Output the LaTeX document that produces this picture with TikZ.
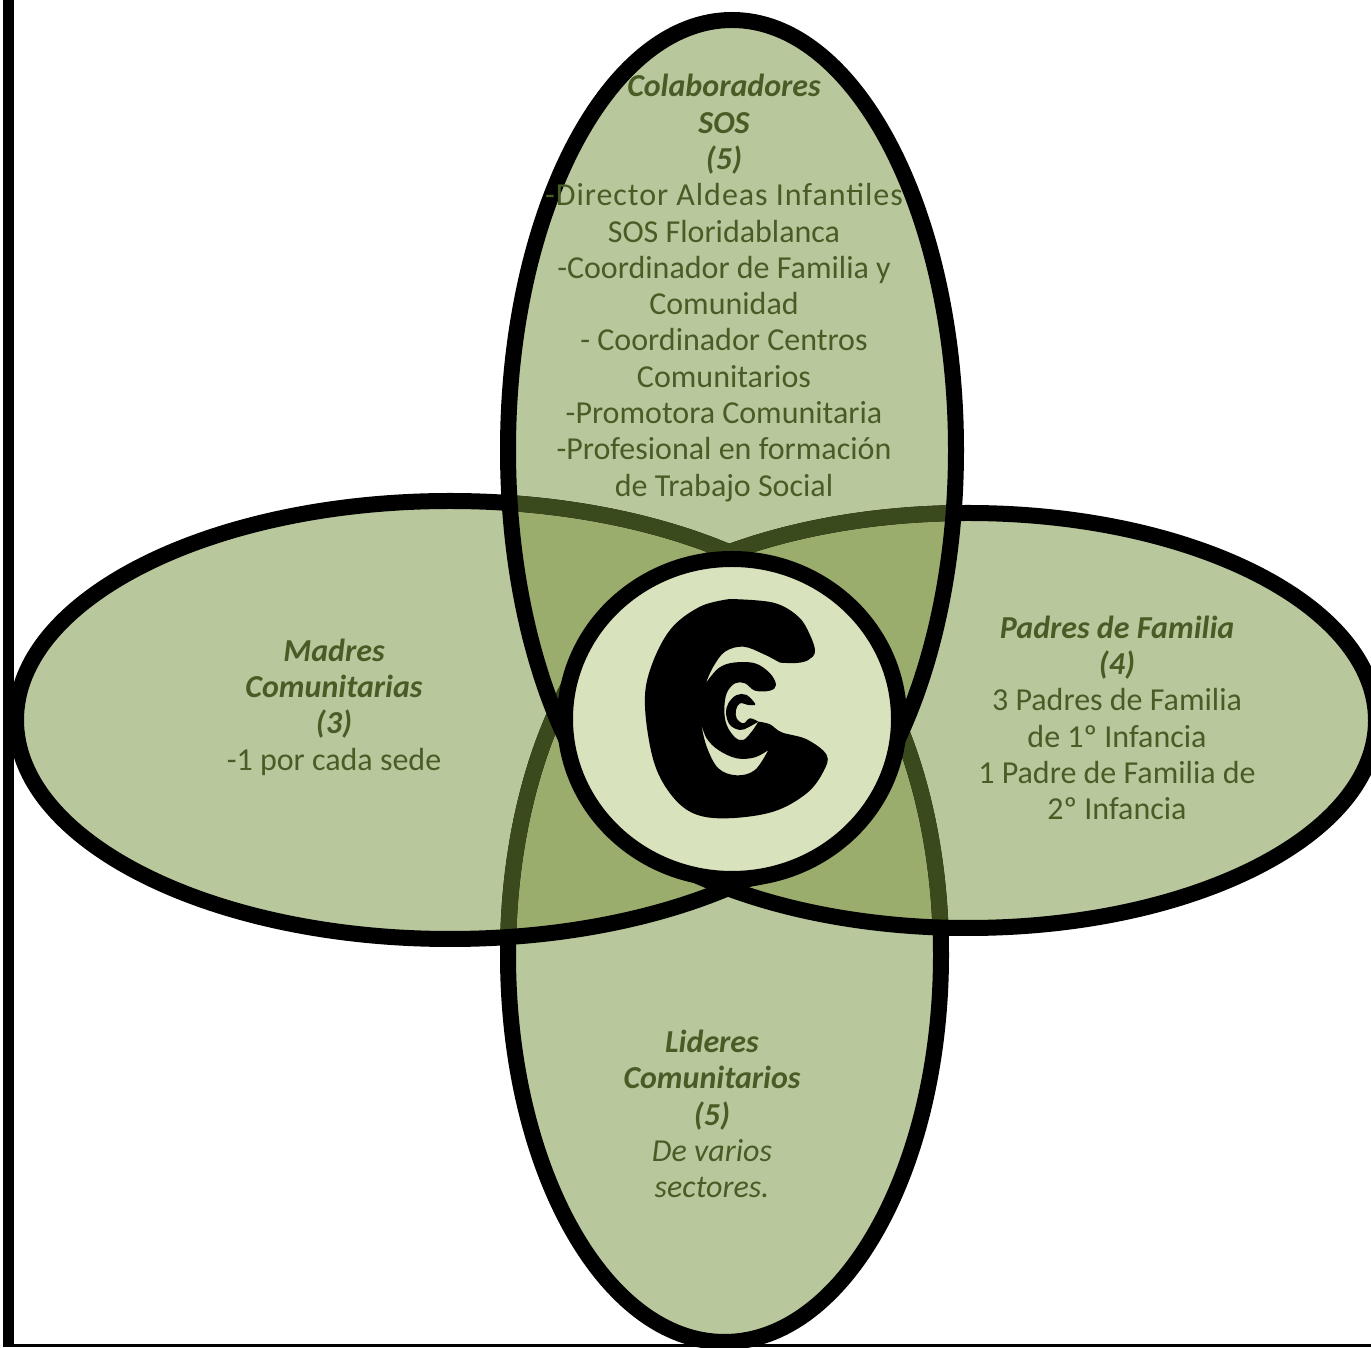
\documentclass[tikz,border=0pt]{standalone}
\usepackage{fontspec}
\setmainfont{Carlito}
\definecolor{petal}{HTML}{B8C89C}
\definecolor{overlapfill}{HTML}{9BAD6D}
\definecolor{darkline}{HTML}{3A4A1C}
\definecolor{hubfill}{HTML}{D8E2BC}
\definecolor{labelcol}{HTML}{4A5C26}
\newcommand{\ellT}{(732,897) ellipse [x radius=224pt,y radius=430pt]}
\newcommand{\ellL}{(450,627) ellipse [x radius=434pt,y radius=219pt]}
\newcommand{\ellR}{(968,626.5) ellipse [x radius=408pt,y radius=207.5pt]}
\newcommand{\ellB}{(724.5,392) ellipse [x radius=216.5pt,y radius=387pt]}
\newcommand{\headf}{\fontsize{32}{36.3}\selectfont\bfseries\itshape}
\newcommand{\bodyf}{\fontsize{32}{36.3}\selectfont}
\tikzset{
  outline/.style={line width=16pt,draw=black},
  seen/.style={line width=16pt,draw=darkline},
  blocklabel/.style={align=center,text=labelcol,inner sep=0pt,font=\bodyf},
}
\begin{document}
\begin{tikzpicture}[x=1pt,y=1pt]
\useasboundingbox (0,0) rectangle (1371,1347);
\clip (0,0) rectangle (1371,1347);
% fills
\fill[petal] \ellT; \fill[petal] \ellL; \fill[petal] \ellR; \fill[petal] \ellB;
\begin{scope}\clip \ellT; \fill[overlapfill] \ellL; \fill[overlapfill] \ellR; \end{scope}
\begin{scope}\clip \ellB; \fill[overlapfill] \ellL; \fill[overlapfill] \ellR; \end{scope}
% bottom petal outline
\draw[outline] \ellB;
\begin{scope}\clip \ellL; \draw[seen] \ellB; \end{scope}
\begin{scope}\clip \ellR; \draw[seen] \ellB; \end{scope}
% side petal outlines (right one stops under the hub)
\draw[outline] \ellL;
\begin{scope}\clip (600,0) rectangle (1371,1347); \draw[outline] \ellR; \end{scope}
\begin{scope}\clip \ellT; \draw[seen] \ellL;
  \clip (600,0) rectangle (1371,1347); \draw[seen] \ellR; \end{scope}
% top petal outline
\draw[outline] \ellT;
% frame lines
\fill[black] (3,0) rectangle (14,1347);
\fill[black] (3,0) rectangle (1371,3);
% hub
\draw[outline,fill=hubfill] (732,628) ellipse [x radius=167pt,y radius=160pt];
% swirl logo (coordinates in 3x px)
\begin{scope}[shift={(480,867)},x=0.33333pt,y=-0.33333pt]
\fill[black,even odd rule]
  plot[smooth,tension=.6] coordinates {(750,357) (880,368) (955,410) (990,465) (1005,515) (985,540) (950,549) (900,548)}
  -- plot[smooth,tension=.6] coordinates {(900,548) (850,522) (790,500) (735,515) (700,560) (677,610)}
  -- plot[smooth,tension=.6] coordinates {(677,610) (715,565) (760,548) (825,550) (870,580) (888,615) (870,632) (825,632) (795,610) (765,610) (740,640) (733,690) (740,735) (765,772) (790,780) (815,755) (835,725)}
  -- plot[smooth,tension=.6] coordinates {(835,725) (870,733) (905,757) (980,778) (1040,825) (1030,875) (980,940) (880,995) (740,1015) (640,1000) (570,940) (520,840) (495,680) (510,570) (570,450) (660,380) (750,357)}
  -- cycle
  plot[smooth,tension=.6] coordinates {(663,730) (680,800) (715,865) (770,886) (825,870) (865,810)}
  -- plot[smooth,tension=.6] coordinates {(865,810) (825,832) (770,835) (715,810) (680,775) (663,730)}
  -- cycle;
\fill[black]
  plot[smooth,tension=.6] coordinates {(825,670) (800,645) (770,645) (745,670) (738,700) (750,735) (780,750) (805,742) (835,725)}
  -- plot[smooth,tension=.6] coordinates {(835,725) (810,715) (790,730) (770,715) (768,690) (780,670) (805,675) (825,675)}
  -- cycle;
\end{scope}
% labels
\node[blocklabel] (colab) at (724,1059) {{\headf Colaboradores}\\{\headf SOS}\\{\headf (5)}\\{\addfontfeatures{LetterSpace=3}-Director Aldeas Infantiles}\\SOS Floridablanca\\-Coordinador de Familia y\\Comunidad\\- Coordinador Centros\\Comunitarios\\-Promotora Comunitaria\\-Profesional en formación\\de Trabajo Social};
\node[blocklabel] (madres) at (334,640) {{\headf Madres}\\{\headf Comunitarias}\\{\headf (3)}\\-1 por cada sede};
\node[blocklabel] (padres) at (1117,629) {{\headf Padres de Familia}\\{\headf (4)}\\3 Padres de Familia\\de 1º Infancia\\1 Padre de Familia de\\2º Infancia};
\node[blocklabel] (lideres) at (712,233) {{\headf Lideres}\\{\headf Comunitarios}\\{\headf (5)}\\{\itshape De varios}\\{\itshape sectores.}};
\end{tikzpicture}
\end{document}
